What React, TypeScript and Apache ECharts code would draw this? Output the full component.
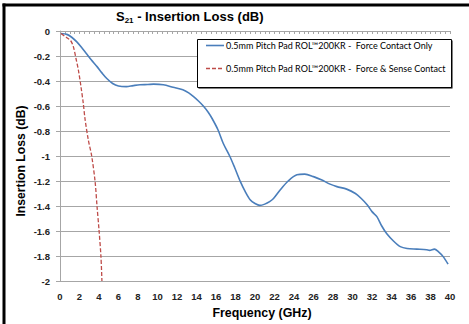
import React, { useEffect, useRef } from "react";
import * as echarts from "echarts";

const blueFreq = [0.1, 0.7, 1.2, 1.7, 2.2, 2.7, 3.2, 3.8, 4.3, 4.8, 5.4, 6.0, 6.8, 7.5, 8.2, 9.0, 9.6, 10.6, 11.6, 12.6, 13.2, 13.7, 14.2, 14.7, 15.2, 15.6, 16.2, 16.75, 17.4, 17.9, 18.5, 19.0, 19.5, 20.0, 20.5, 21.0, 21.5, 21.9, 22.6, 23.4, 24.3, 25.1, 26.0, 26.8, 27.7, 28.4, 29.4, 30.3, 30.9, 31.5, 32.0, 32.5, 33.0, 33.5, 34.2, 34.9, 35.6, 36.6, 37.6, 37.9, 38.4, 38.8, 39.3, 39.8];
const blueLoss = [-0.02, -0.027, -0.05, -0.085, -0.13, -0.18, -0.23, -0.285, -0.335, -0.38, -0.42, -0.44, -0.445, -0.437, -0.43, -0.428, -0.425, -0.43, -0.45, -0.47, -0.495, -0.525, -0.56, -0.6, -0.65, -0.7, -0.79, -0.9, -1.0, -1.09, -1.205, -1.285, -1.35, -1.38, -1.395, -1.385, -1.365, -1.34, -1.27, -1.2, -1.15, -1.145, -1.165, -1.19, -1.225, -1.245, -1.265, -1.3, -1.34, -1.39, -1.445, -1.485, -1.56, -1.62, -1.68, -1.725, -1.74, -1.745, -1.75, -1.755, -1.745, -1.765, -1.805, -1.865];

const redFreq = [0.1, 0.7, 1.1, 1.37, 1.64, 1.88, 2.15, 2.39, 2.56, 2.9, 3.25, 3.6, 3.8, 4.0, 4.2, 4.3];
const redLoss = [-0.02, -0.054, -0.078, -0.125, -0.22, -0.31, -0.445, -0.58, -0.7, -0.87, -1.0, -1.205, -1.405, -1.59, -1.805, -2.0];

const seriesNames = [
  "0.5mm Pitch Pad ROL\u2122200KR -  Force Contact Only",
  "0.5mm Pitch Pad ROL\u2122200KR -  Force & Sense Contact",
];
const seriesColors = ["#4a7ebb", "#be4b48"];

const xTicks = { min: 0, max: 40, interval: 2 };
const yTicks = { min: -2, max: 0, interval: 0.2 };

export default function App() {
  const ref = useRef<HTMLDivElement>(null);
  useEffect(() => {
    if (!ref.current) return;
    const chart = echarts.init(ref.current, null, { renderer: "svg" });
    const tickLabel = {
      fontFamily: "Liberation Sans",
      fontWeight: "bold" as const,
      fontSize: 9.5,
      color: "#222",
    };
    const legendRows = [45.5, 68.5];
    const legendGraphics: any[] = [];
    seriesNames.forEach((name, i) => {
      legendGraphics.push({
        type: "line",
        z: 20,
        shape: { x1: 206, y1: legendRows[i], x2: 224, y2: legendRows[i] },
        style: i === 0
          ? { stroke: seriesColors[i], lineWidth: 1.6 }
          : { stroke: seriesColors[i], lineWidth: 1.3, lineDash: [4, 2] },
      });
      legendGraphics.push({
        type: "text",
        z: 20,
        x: 226,
        y: legendRows[i],
        style: { text: name, fontFamily: "Lato", fontSize: 9, fill: "#000", align: "left", verticalAlign: "middle" },
      });
    });
    chart.setOption({
      animation: false,
      backgroundColor: "#fff",
      title: {
        text: "{m|S}{s|21}{m| - Insertion Loss (dB)}",
        left: 116,
        top: 8.5,
        padding: 0,
        textStyle: {
          rich: {
            m: { fontFamily: "Liberation Sans", fontWeight: "bold", fontSize: 13, color: "#000", lineHeight: 16, verticalAlign: "middle" },
            s: { fontFamily: "Liberation Sans", fontWeight: "bold", fontSize: 8, color: "#000", lineHeight: 7, verticalAlign: "bottom" },
          },
        },
      },
      grid: { left: 60, right: 19, top: 31, bottom: 43 },
      xAxis: [
        {
          type: "value",
          position: "bottom",
          min: xTicks.min,
          max: xTicks.max,
          interval: xTicks.interval,
          axisLine: { show: true, lineStyle: { color: "#a6a6a6", width: 1 } },
          axisTick: { show: false },
          splitLine: { show: false },
          axisLabel: { ...tickLabel, margin: 10 },
        },
        {
          type: "value",
          position: "top",
          min: xTicks.min,
          max: xTicks.max,
          interval: xTicks.interval,
          axisLine: { show: true, lineStyle: { color: "#a6a6a6", width: 1 } },
          axisTick: { show: true, inside: true, length: 3, lineStyle: { color: "#a6a6a6" } },
          minorTick: { show: true, splitNumber: 4, length: 3, lineStyle: { color: "#a6a6a6" } },
          splitLine: { show: false },
          axisLabel: { show: false },
        },
      ],
      yAxis: {
        type: "value",
        min: yTicks.min,
        max: yTicks.max,
        interval: yTicks.interval,
        axisLine: { show: true, lineStyle: { color: "#a6a6a6", width: 1 } },
        axisTick: { show: true, length: 4, lineStyle: { color: "#a6a6a6" } },
        splitLine: { show: true, lineStyle: { color: "#a6a6a6", width: 1 } },
        axisLabel: {
          ...tickLabel,
          margin: 10,
          formatter: (v: number) => String(Math.round(v * 10) / 10),
        },
      },
      graphic: [
        { type: "line", z: 100, shape: { x1: 4, y1: 3.5, x2: 4, y2: 324 }, style: { stroke: "#000", lineWidth: 3 } },
        { type: "line", z: 100, shape: { x1: 2.5, y1: 5, x2: 469, y2: 5 }, style: { stroke: "#000", lineWidth: 3 } },
        { type: "rect", z: 5, shape: { x: 198.5, y: 40.5, width: 254, height: 48 }, style: { fill: "#000" } },
        { type: "rect", z: 6, shape: { x: 197.5, y: 39.5, width: 254, height: 48 }, style: { fill: "#fff", stroke: "#000", lineWidth: 1 } },
        ...legendGraphics,
        {
          type: "text",
          x: 21,
          y: 161,
          rotation: Math.PI / 2,
          style: { text: "Insertion Loss (dB)", fontFamily: "Liberation Sans", fontWeight: "bold", fontSize: 12.2, fill: "#000", align: "center", verticalAlign: "middle" },
        },
        {
          type: "text",
          x: 262,
          y: 313,
          style: { text: "Frequency (GHz)", fontFamily: "Liberation Sans", fontWeight: "bold", fontSize: 12.4, fill: "#000", align: "center", verticalAlign: "middle" },
        },
      ],
      series: [
        {
          name: seriesNames[0],
          type: "line",
          xAxisIndex: 0,
          symbol: "none",
          smooth: 0.3,
          lineStyle: { color: seriesColors[0], width: 1.6 },
          itemStyle: { color: seriesColors[0] },
          data: blueFreq.map((f, i) => [f, blueLoss[i]]),
        },
        {
          name: seriesNames[1],
          type: "line",
          xAxisIndex: 0,
          symbol: "none",
          smooth: 0.3,
          lineStyle: { color: seriesColors[1], width: 1.3, type: [4, 2] },
          itemStyle: { color: seriesColors[1] },
          data: redFreq.map((f, i) => [f, redLoss[i]]),
        },
      ],
    });
    return () => chart.dispose();
  }, []);
  return <div ref={ref} style={{ width: 469, height: 324, position: "absolute", left: 0, top: 0 }} />;
}
